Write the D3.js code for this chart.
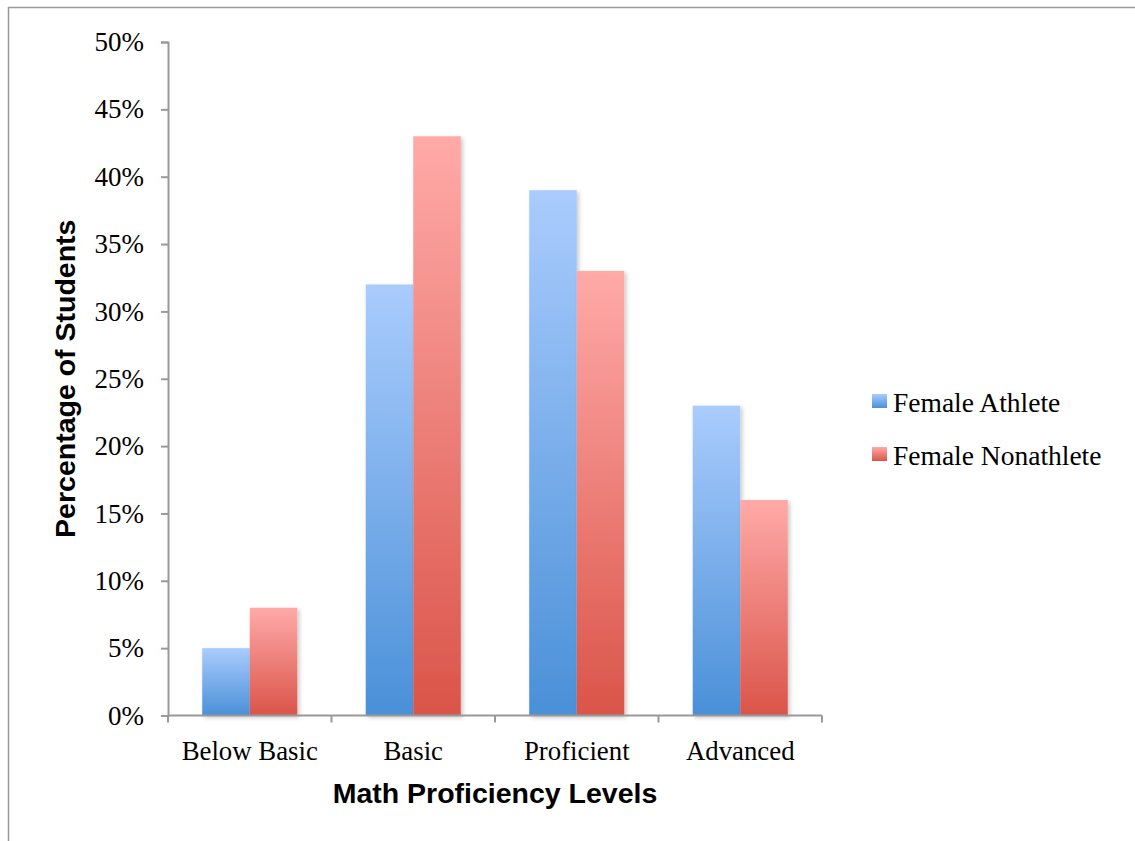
<!DOCTYPE html>
<html><head><meta charset="utf-8">
<script src="https://cdn.jsdelivr.net/npm/d3@7"></script>
<style>body{margin:0;background:#fff}</style>
</head><body>
<script>
const categories = ["Below Basic", "Basic", "Proficient", "Advanced"];
const seriesNames = ["Female Athlete", "Female Nonathlete"];
const athlete = [5, 32, 39, 23];
const nonathlete = [8, 43, 33, 16];
const yTicks = [0, 5, 10, 15, 20, 25, 30, 35, 40, 45, 50];

(function () {
const W = 1135, H = 841;
const svg = d3.select("body").append("svg").attr("width", W).attr("height", H);
const defs = svg.append("defs");
function grad(id, c1, c2) {
  const g = defs.append("linearGradient").attr("id", id).attr("x1", 0).attr("y1", 0).attr("x2", 0).attr("y2", 1);
  g.append("stop").attr("offset", "0%").attr("stop-color", c1);
  g.append("stop").attr("offset", "100%").attr("stop-color", c2);
}
grad("gBlue", "#aaccfd", "#4a90d8");
grad("gRed", "#ffaaa8", "#da5449");
const f = defs.append("filter").attr("id", "sh").attr("x", "-20%").attr("y", "-5%").attr("width", "140%").attr("height", "115%");
f.append("feDropShadow").attr("dx", 2).attr("dy", 2).attr("stdDeviation", 2).attr("flood-color", "#000").attr("flood-opacity", 0.22);

// frame
svg.append("path").attr("d", "M8.5,841 L8.5,7.5 L1135,7.5").attr("fill", "none").attr("stroke", "#999").attr("stroke-width", 1.5);

const pL = 168, pR = 822, pT = 42, pB = 715.5;
const x = d3.scaleBand().domain(categories).range([pL, pR]).paddingInner(0).paddingOuter(0);
const y = d3.scaleLinear().domain([0, 50]).range([pB, pT]);
const x1 = d3.scaleBand().domain(seriesNames).range([0, x.bandwidth()]).paddingInner(0).paddingOuter(0.72);

const colors = ["url(#gBlue)", "url(#gRed)"];
const data = categories.map((c, i) => ({c, vals: [athlete[i], nonathlete[i]]}));

const g = svg.append("g");
data.forEach(d => {
  d.vals.forEach((v, j) => {
    g.append("rect")
      .attr("x", x(d.c) + x1(seriesNames[j]))
      .attr("y", y(v))
      .attr("width", x1.bandwidth())
      .attr("height", y(0) - y(v))
      .attr("fill", colors[j])
      .attr("filter", "url(#sh)");
  });
});

// y axis
const yAxis = d3.axisLeft(y).tickValues(yTicks).tickFormat(d => d + "%").tickSize(7).tickPadding(17);
const ya = svg.append("g").attr("transform", `translate(${pL},0)`).call(yAxis);
ya.select(".domain").attr("stroke", "#999").attr("stroke-width", 2);
ya.selectAll(".tick line").attr("stroke", "#999").attr("stroke-width", 2);
ya.selectAll(".tick text").attr("font-family", "Liberation Serif, serif").attr("font-size", 27).attr("fill", "#000").attr("dy", "0.32em");

// x axis
const xa = svg.append("g").attr("transform", `translate(0,${pB})`);
xa.append("line").attr("x1", pL).attr("x2", pR).attr("stroke", "#999").attr("stroke-width", 2);
const xt = categories.map(c => x(c)).concat([pR]);
xa.selectAll(".xt").data(xt).enter().append("line")
  .attr("x1", d => d).attr("x2", d => d).attr("y1", 0).attr("y2", 7).attr("stroke", "#999").attr("stroke-width", 2);
xa.selectAll(".xl").data(categories).enter().append("text")
  .attr("x", d => x(d) + x.bandwidth() / 2).attr("y", 44)
  .attr("text-anchor", "middle").attr("font-family", "Liberation Serif, serif").attr("font-size", 26.8).attr("fill", "#000")
  .text(d => d);

// titles
svg.append("text").attr("x", (pL + pR) / 2).attr("y", 803).attr("text-anchor", "middle")
  .attr("font-family", "Liberation Sans, Arial, sans-serif").attr("font-weight", "bold").attr("font-size", 28.5)
  .text("Math Proficiency Levels");
svg.append("text").attr("transform", `translate(75,${(pT + pB) / 2}) rotate(-90)`).attr("text-anchor", "middle")
  .attr("font-family", "Liberation Sans, Arial, sans-serif").attr("font-weight", "bold").attr("font-size", 28.5)
  .text("Percentage of Students");

// legend
const lg = svg.append("g");
seriesNames.forEach((s, i) => {
  const yy = 394 + i * 53;
  lg.append("rect").attr("x", 872).attr("y", yy).attr("width", 15).attr("height", 14).attr("fill", colors[i]);
  lg.append("text").attr("x", 893).attr("y", yy + 18).attr("font-family", "Liberation Serif, serif").attr("font-size", 27.5).attr("fill", "#000").text(s);
});
})();
</script>
</body></html>
